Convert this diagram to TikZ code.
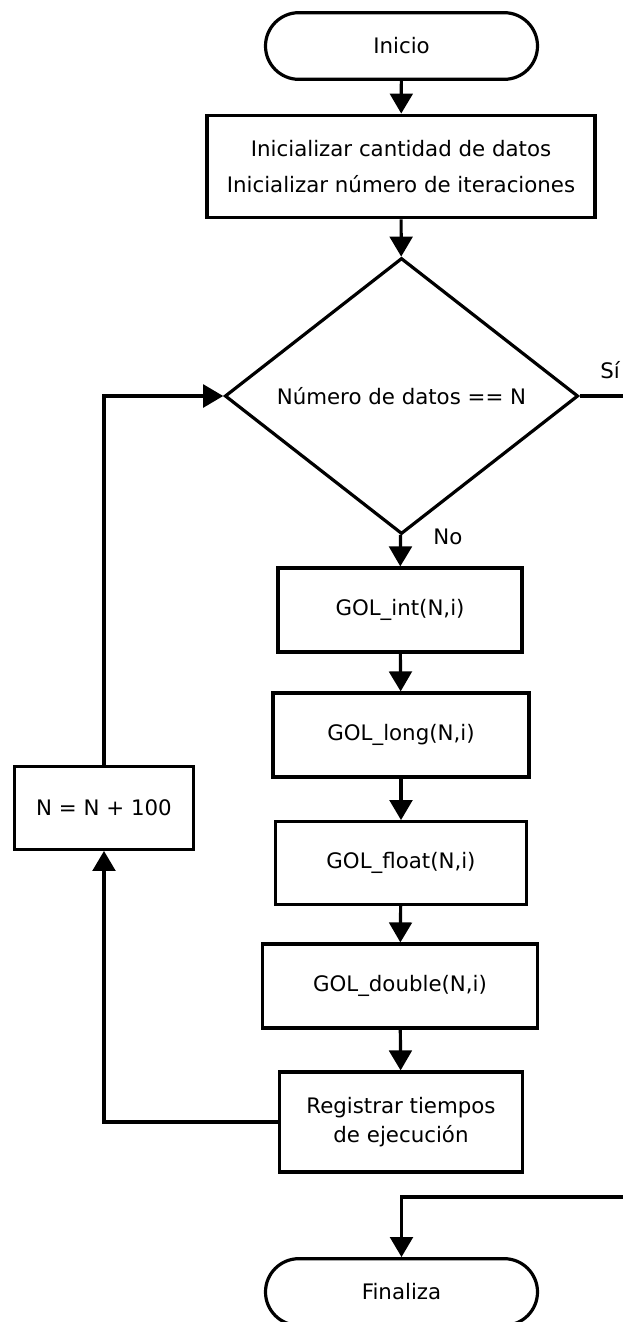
\documentclass[tikz,border=0pt]{standalone}
\usepackage{fontspec}
\setmainfont{DejaVu Sans}
\usetikzlibrary{arrows.meta,shapes.geometric,shapes.misc}
\tikzset{
    every node/.style={align=center, inner sep=0pt,
    	font=\fontsize{16}{21.5}\selectfont}
}
\tikzset{
    proc/.style={rectangle, draw, line width=2.4pt, fill=white},
    term/.style={rounded rectangle, draw, line width=2.4pt, fill=white,
    	minimum width=204pt, minimum height=50pt},
    decis/.style={diamond, draw, line width=2.4pt, fill=white,
    	minimum width=265pt, minimum height=207pt}
}
\tikzset{
	every edge/.append style={line width=2.4pt},
	flow/.style={-{Triangle[width=17pt,length=15pt]}}
}

\begin{document}
\begin{tikzpicture}[x=0.75pt, y=-0.75pt, line width=2.4pt]
	\useasboundingbox (0,0) rectangle (623,1322);
	\node (inicio) [term] at (401.5, 46) {Inicio};
	\node (init) [proc, minimum width=291pt, minimum height=77pt] at (401, 166.5)
		{Inicializar cantidad de datos\\[6pt]Inicializar número de iteraciones};
	\node (dec) [decis] at (401.5, 396) {Número de datos == N};
	\node (gint) [proc, minimum width=183pt, minimum height=63pt] at (400, 610) {GOL\_int(N,i)};
	\node (glong) [proc, minimum width=192pt, minimum height=63pt] at (401, 735) {GOL\_long(N,i)};
	\node (gfloat) [proc, minimum width=188pt, minimum height=62pt] at (401, 863) {GOL\_float(N,i)};
	\node (gdouble) [proc, minimum width=206pt, minimum height=63pt] at (400, 986) {GOL\_double(N,i)};
	\node (regis) [proc, minimum width=182pt, minimum height=75pt] at (401, 1122)
		{Registrar tiempos\\de ejecución};
	\node (nmas) [proc, minimum width=134pt, minimum height=62pt] at (104, 808) {N = N + 100};
	\node (fin) [term] at (401.5, 1292) {Finaliza};
	\node (si) at (610, 370) {Sí};
	\node (no) at (448, 537) {No};
	\coordinate (sisale) at (623, 396);
	\coordinate (sientra) at (623, 1197);
	
	\draw (inicio) edge[flow] (init); \draw (init) edge[flow] (dec);
	\draw (dec) edge[flow] (gint); \draw (gint) edge[flow] (glong);
	\draw (glong) edge[flow] (gfloat); \draw (gfloat) edge[flow] (gdouble);
	\draw (gdouble) edge[flow] (regis);
	
	\draw[flow] (regis.west) -| (nmas.south);
	\draw[flow] (nmas.north) |- (dec.west);
	\draw (dec.east) -- (sisale);
	\draw[flow] (sientra) -| (fin.north);
\end{tikzpicture}
\end{document}
